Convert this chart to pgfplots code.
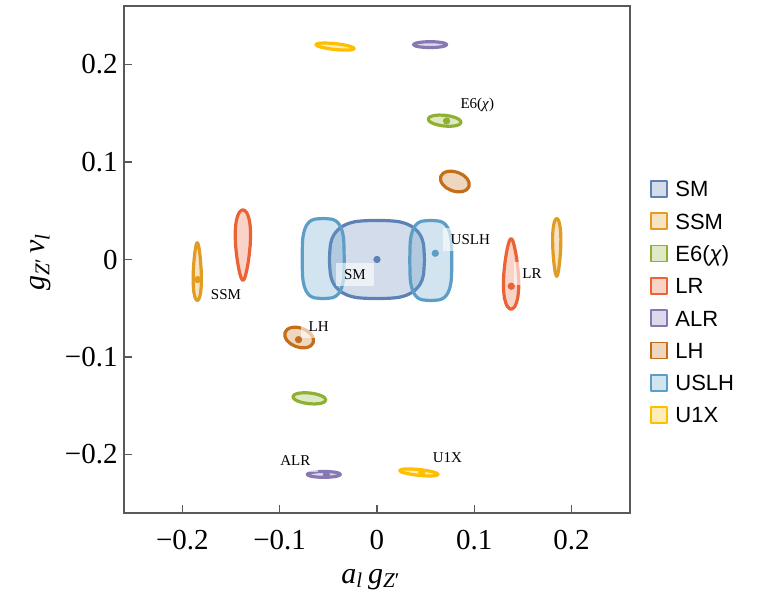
\documentclass[border=0pt]{standalone}
\usepackage{fontspec}
\setmainfont{Liberation Serif}
\newfontfamily\legendfont{Liberation Sans}
\usepackage{pgfplots}
\pgfplotsset{compat=1.18}
\definecolor{cSM}{rgb}{0.368417,0.506779,0.709798}
\definecolor{cSSM}{rgb}{0.880722,0.611041,0.142051}
\definecolor{cE6}{rgb}{0.560181,0.691569,0.194885}
\definecolor{cLR}{rgb}{0.922526,0.385626,0.209179}
\definecolor{cALR}{rgb}{0.528488,0.470624,0.701351}
\definecolor{cLH}{rgb}{0.772079,0.431554,0.102387}
\definecolor{cUSLH}{rgb}{0.363898,0.618501,0.782349}
\definecolor{cUX}{rgb}{1,0.75,0}
\pgfplotsset{
  region/.style={draw=#1, fill=#1, fill opacity=0.28, line width=1.6pt, line join=round, smooth},
  dot/.style={only marks, mark=*, mark size=1.6pt, color=#1, forget plot},
}
\tikzset{
  lbl/.style={font=\fontsize{7.5}{9}\selectfont, fill=white, fill opacity=0.6, text opacity=1,
    inner xsep=4pt, inner ysep=3.25pt, text height=5pt, text depth=0pt},
}
\begin{document}
\begin{tikzpicture}
\useasboundingbox (-62pt,-46pt) rectangle (317.5pt,256.5pt);
\begin{axis}[
  at={(0,0)}, anchor=south west,
  width=253pt, height=253.5pt, scale only axis,
  xmin=-0.26, xmax=0.26, ymin=-0.26, ymax=0.26,
  xtick={-0.2,-0.1,0,0.1,0.2}, ytick={-0.2,-0.1,0,0.1,0.2},
  xticklabels={−0.2,−0.1,0,0.1,0.2}, yticklabels={−0.2,−0.1,0,0.1,0.2},
  tick align=inside, xtick pos=left, ytick pos=left,
  major tick length=3.8pt, minor tick num=0,
  tick style={black!65, line width=0.6pt},
  axis line style={black!65, line width=0.6pt},
  every tick label/.append style={font=\fontsize{14.5}{17}\selectfont, inner sep=0pt, text=black},
  xticklabel shift=8.5pt, yticklabel shift=3pt,
  xlabel={\textit{a}\textsubscript{\textit{l}}\,\textit{g}\textsubscript{\textit{Z}′}},
  ylabel={\textit{g}\textsubscript{\textit{Z}′}\,\textit{v}\textsubscript{\textit{l}}},
  xlabel style={at={([yshift=-35pt]axis description cs:0.488,0)}, anchor=base, font=\fontsize{15}{18}\selectfont},
  ylabel style={at={([xshift=-39.5pt]axis description cs:0,0.495)}, anchor=base, font=\fontsize{15}{18}\selectfont},
  legend cell align=left,
  legend style={at={(axis description cs:1.0395,0.6568)}, anchor=north west, draw=none, fill=none,
    inner sep=0pt, outer sep=0pt, row sep=7.25pt, column sep=3.8pt,
    font=\legendfont\fontsize{11}{13}\selectfont,
    nodes={inner sep=0pt, text height=7.9pt, text depth=0pt}},
  legend image code/.code={\draw[#1, line width=0.9pt] (0pt,-4pt) rectangle (8pt,4pt);},
]
% SM
\addplot[region=cSM] coordinates {(0.0488,0) (0.04768,0.01628) (0.04434,0.02526) (0.03873,0.03183) (0.03074,0.03643) (0.01982,0.03918) (0,0.0401) (-0.01982,0.03918) (-0.03074,0.03643) (-0.03873,0.03183) (-0.04434,0.02526) (-0.04768,0.01628) (-0.0488,0) (-0.04768,-0.01628) (-0.04434,-0.02526) (-0.03873,-0.03183) (-0.03074,-0.03643) (-0.01982,-0.03918) (0,-0.0401) (0.01982,-0.03918) (0.03074,-0.03643) (0.03873,-0.03183) (0.04434,-0.02526) (0.04768,-0.01628) (0.0488,0)};
\addlegendentry{SM}
\addplot[dot=cSM] coordinates {(0,0)};
% SSM
\addplot[region=cSSM] coordinates {(-0.1806,-0.0124) (-0.18135,-0.00107) (-0.18242,0.00853) (-0.18357,0.01495) (-0.1847,0.0172) (-0.18583,0.01495) (-0.18698,0.00853) (-0.18805,-0.00107) (-0.1888,-0.0124) (-0.18892,-0.02373) (-0.18821,-0.03333) (-0.1867,-0.03975) (-0.1847,-0.042) (-0.1827,-0.03975) (-0.18119,-0.03333) (-0.18048,-0.02373) (-0.1806,-0.0124)};
\addlegendentry{SSM}
\addplot[region=cSSM, forget plot] coordinates {(0.1806,0.0124) (0.18135,0.00107) (0.18242,-0.00853) (0.18357,-0.01495) (0.1847,-0.0172) (0.18583,-0.01495) (0.18698,-0.00853) (0.18805,0.00107) (0.1888,0.0124) (0.18892,0.02373) (0.18821,0.03333) (0.1867,0.03975) (0.1847,0.042) (0.1827,0.03975) (0.18119,0.03333) (0.18048,0.02373) (0.1806,0.0124)};
\addplot[dot=cSSM] coordinates {(-0.1844,-0.0206)};
% E6
\addplot[region=cE6] coordinates {(0.07008,0.14787) (0.06356,0.14813) (0.05795,0.14753) (0.0541,0.14613) (0.05259,0.14418) (0.05366,0.14195) (0.05713,0.13979) (0.0625,0.13803) (0.06892,0.13693) (0.07544,0.13667) (0.08105,0.13727) (0.0849,0.13867) (0.08641,0.14062) (0.08534,0.14285) (0.08187,0.14501) (0.0765,0.14677) (0.07008,0.14787)};
\addlegendentry{E6(\textit{χ})}
\addplot[region=cE6, forget plot] coordinates {(-0.07008,-0.14787) (-0.06356,-0.14813) (-0.05795,-0.14753) (-0.0541,-0.14613) (-0.05259,-0.14418) (-0.05366,-0.14195) (-0.05713,-0.13979) (-0.0625,-0.13803) (-0.06892,-0.13693) (-0.07544,-0.13667) (-0.08105,-0.13727) (-0.0849,-0.13867) (-0.08641,-0.14062) (-0.08534,-0.14285) (-0.08187,-0.14501) (-0.0765,-0.14677) (-0.07008,-0.14787)};
\addplot[dot=cE6] coordinates {(0.0715,0.1421)};
% LR
\addplot[region=cLR] coordinates {(-0.1303,0.0148) (-0.12994,0.02865) (-0.13118,0.0404) (-0.134,0.04825) (-0.1378,0.051) (-0.1416,0.04825) (-0.14442,0.0404) (-0.14566,0.02865) (-0.1453,0.0148) (-0.1438,0.00095) (-0.14179,-0.0108) (-0.13974,-0.01865) (-0.1378,-0.0214) (-0.13586,-0.01865) (-0.13381,-0.0108) (-0.1318,0.00095) (-0.1303,0.0148)};
\addlegendentry{LR}
\addplot[region=cLR, forget plot] coordinates {(0.1303,-0.0148) (0.12994,-0.02865) (0.13118,-0.0404) (0.134,-0.04825) (0.1378,-0.051) (0.1416,-0.04825) (0.14442,-0.0404) (0.14566,-0.02865) (0.1453,-0.0148) (0.1438,-0.00095) (0.14179,0.0108) (0.13974,0.01865) (0.1378,0.0214) (0.13586,0.01865) (0.13381,0.0108) (0.1318,-0.00095) (0.1303,-0.0148)};
\addplot[dot=cLR] coordinates {(0.138,-0.0274)};
% ALR
\addplot[region=cALR] coordinates {(0.0546,0.2234) (0.04809,0.22317) (0.04258,0.22252) (0.03889,0.22155) (0.0376,0.2204) (0.03889,0.21925) (0.04258,0.21828) (0.04809,0.21763) (0.0546,0.2174) (0.06111,0.21763) (0.06662,0.21828) (0.07031,0.21925) (0.0716,0.2204) (0.07031,0.22155) (0.06662,0.22252) (0.06111,0.22317) (0.0546,0.2234)};
\addlegendentry{ALR}
\addplot[region=cALR, forget plot] coordinates {(-0.0546,-0.2234) (-0.04809,-0.22317) (-0.04258,-0.22252) (-0.03889,-0.22155) (-0.0376,-0.2204) (-0.03889,-0.21925) (-0.04258,-0.21828) (-0.04809,-0.21763) (-0.0546,-0.2174) (-0.06111,-0.21763) (-0.06662,-0.21828) (-0.07031,-0.21925) (-0.0716,-0.2204) (-0.07031,-0.22155) (-0.06662,-0.22252) (-0.06111,-0.22317) (-0.0546,-0.2234)};
\addplot[dot=cALR] coordinates {(-0.052,-0.2207)};
% LH
\addplot[region=cLH] coordinates {(0.08335,0.08921) (0.07756,0.09053) (0.07214,0.09024) (0.06791,0.08839) (0.06553,0.08527) (0.06535,0.08135) (0.0674,0.07722) (0.07136,0.07351) (0.07665,0.07079) (0.08244,0.06947) (0.08786,0.06976) (0.09209,0.07161) (0.09447,0.07473) (0.09465,0.07865) (0.0926,0.08278) (0.08864,0.08649) (0.08335,0.08921)};
\addlegendentry{LH}
\addplot[region=cLH, forget plot] coordinates {(-0.08335,-0.08921) (-0.07756,-0.09053) (-0.07214,-0.09024) (-0.06791,-0.08839) (-0.06553,-0.08527) (-0.06535,-0.08135) (-0.0674,-0.07722) (-0.07136,-0.07351) (-0.07665,-0.07079) (-0.08244,-0.06947) (-0.08786,-0.06976) (-0.09209,-0.07161) (-0.09447,-0.07473) (-0.09465,-0.07865) (-0.0926,-0.08278) (-0.08864,-0.08649) (-0.08335,-0.08921)};
\addplot[dot=cLH] coordinates {(-0.0806,-0.0822)};
% USLH
\addplot[region=cUSLH] coordinates {(-0.0337,0.001) (-0.03414,0.01922) (-0.03549,0.02805) (-0.03776,0.0343) (-0.04105,0.03861) (-0.0457,0.04116) (-0.0553,0.042) (-0.0649,0.04116) (-0.06955,0.03861) (-0.07284,0.0343) (-0.07511,0.02805) (-0.07646,0.01922) (-0.0769,0.001) (-0.07646,-0.01722) (-0.07511,-0.02605) (-0.07284,-0.0323) (-0.06955,-0.03661) (-0.0649,-0.03916) (-0.0553,-0.04) (-0.0457,-0.03916) (-0.04105,-0.03661) (-0.03776,-0.0323) (-0.03549,-0.02605) (-0.03414,-0.01722) (-0.0337,0.001)};
\addlegendentry{USLH}
\addplot[region=cUSLH, forget plot] coordinates {(0.0337,-0.001) (0.03414,-0.01922) (0.03549,-0.02805) (0.03776,-0.0343) (0.04105,-0.03861) (0.0457,-0.04116) (0.0553,-0.042) (0.0649,-0.04116) (0.06955,-0.03861) (0.07284,-0.0343) (0.07511,-0.02805) (0.07646,-0.01922) (0.0769,-0.001) (0.07646,0.01722) (0.07511,0.02605) (0.07284,0.0323) (0.06955,0.03661) (0.0649,0.03916) (0.0553,0.04) (0.0457,0.03916) (0.04105,0.03661) (0.03776,0.0323) (0.03549,0.02605) (0.03414,0.01722) (0.0337,-0.001)};
\addplot[dot=cUSLH] coordinates {(0.0599,0.0064)};
% U1X
\addplot[region=cUX] coordinates {(-0.0428,0.2214) (-0.05035,0.22194) (-0.0568,0.22197) (-0.06117,0.22145) (-0.06279,0.22047) (-0.06141,0.21917) (-0.05724,0.21775) (-0.05093,0.21644) (-0.0434,0.2154) (-0.03585,0.21486) (-0.0294,0.21483) (-0.02503,0.21535) (-0.02341,0.21633) (-0.02479,0.21763) (-0.02896,0.21905) (-0.03527,0.22036) (-0.0428,0.2214)};
\addlegendentry{U1X}
\addplot[region=cUX, forget plot] coordinates {(0.0428,-0.2214) (0.05035,-0.22194) (0.0568,-0.22197) (0.06117,-0.22145) (0.06279,-0.22047) (0.06141,-0.21917) (0.05724,-0.21775) (0.05093,-0.21644) (0.0434,-0.2154) (0.03585,-0.21486) (0.0294,-0.21483) (0.02503,-0.21535) (0.02341,-0.21633) (0.02479,-0.21763) (0.02896,-0.21905) (0.03527,-0.22036) (0.0428,-0.2214)};
\addplot[dot=cUX] coordinates {(0.046,-0.2183)};
% labels
\node[lbl] at (axis cs:-0.0227,-0.0158) {SM};
\node[lbl] at (axis cs:0.0959,0.0207) {USLH};
\node[lbl] at (axis cs:0.1593,-0.0148) {LR};
\node[lbl] at (axis cs:-0.1552,-0.0359) {SSM};
\node[lbl] at (axis cs:-0.06,-0.0683) {LH};
\node[lbl] at (axis cs:0.1031,0.1603) {E6(\textit{χ})};
\node[lbl] at (axis cs:-0.084,-0.2065) {ALR};
\node[lbl] at (axis cs:0.0723,-0.2029) {U1X};
\end{axis}
\end{tikzpicture}
\end{document}
